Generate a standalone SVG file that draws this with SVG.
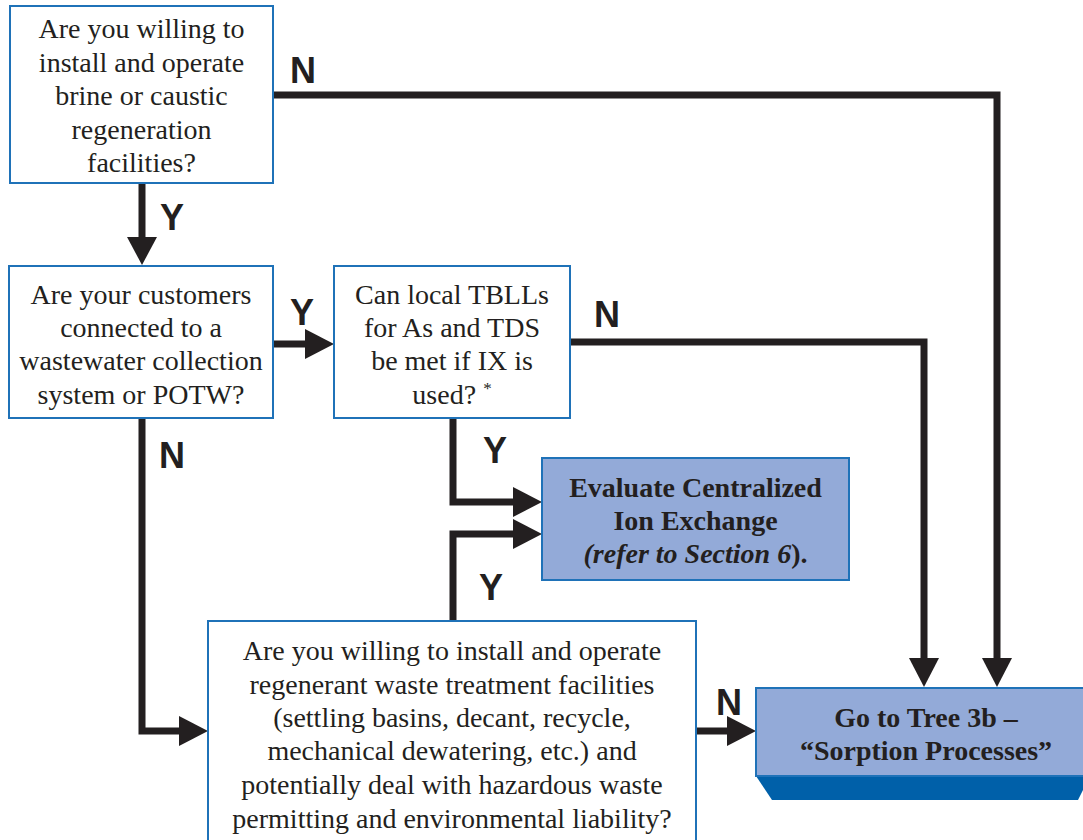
<svg xmlns="http://www.w3.org/2000/svg" width="1083" height="840" viewBox="0 0 1083 840">
<defs>
<style>
.box{fill:#fff;stroke:#1f72b8;stroke-width:2}
.fbox{fill:#93aad8;stroke:#1f72b8;stroke-width:2}
.t{font-family:"Liberation Serif","Times New Roman",serif;font-size:28px;fill:#231f20;text-anchor:middle}
.b{font-weight:bold}
.lbl{font-family:"Liberation Sans",Arial,sans-serif;font-size:36px;font-weight:bold;fill:#231f20;text-anchor:middle}
.c{fill:none;stroke:#231f20;stroke-width:7;stroke-linejoin:miter}
.ah{fill:#231f20}
</style>
</defs>
<g id="connectors">
<path class="c" d="M142,183 V238"/>
<polygon class="ah" points="127,237 157,237 142,265"/>
<path class="c" d="M273,95 H997 V660"/>
<polygon class="ah" points="982,658 1012,658 997,687"/>
<path class="c" d="M273,344 H306"/>
<polygon class="ah" points="305,329 305,359 334,344"/>
<path class="c" d="M570,342 H924 V660"/>
<polygon class="ah" points="909,658 939,658 924,687"/>
<path class="c" d="M453,418 V502 H515"/>
<polygon class="ah" points="513,487 513,517 542,502"/>
<path class="c" d="M453,621 V534 H515"/>
<polygon class="ah" points="513,519 513,549 542,534"/>
<path class="c" d="M142,418 V731 H181"/>
<polygon class="ah" points="179,716 179,746 208,731"/>
<path class="c" d="M696,731 H729"/>
<polygon class="ah" points="727,716 727,746 756,731"/>
<text class="lbl" x="303" y="83">N</text>
<text class="lbl" x="172" y="230">Y</text>
<text class="lbl" x="302" y="325">Y</text>
<text class="lbl" x="607" y="327">N</text>
<text class="lbl" x="172" y="468">N</text>
<text class="lbl" x="495" y="463">Y</text>
<text class="lbl" x="491" y="600">Y</text>
<text class="lbl" x="729" y="715">N</text>
</g>
<g id="q1">
<rect class="box" x="10" y="6" width="263" height="177"/>
<text class="t"><tspan x="141.5" y="38">Are you willing to</tspan><tspan x="141.5" y="72">install and operate</tspan><tspan x="141.5" y="105">brine or caustic</tspan><tspan x="141.5" y="139">regeneration</tspan><tspan x="141.5" y="172">facilities?</tspan></text>
</g>
<g id="q2">
<rect class="box" x="9" y="266" width="264" height="152"/>
<text class="t"><tspan x="141" y="304">Are your customers</tspan><tspan x="141" y="337">connected to a</tspan><tspan x="141" y="370">wastewater collection</tspan><tspan x="141" y="404">system or POTW?</tspan></text>
</g>
<g id="q3">
<rect class="box" x="334" y="266" width="236" height="152"/>
<text class="t"><tspan x="452" y="304">Can local TBLLs</tspan><tspan x="452" y="337">for As and TDS</tspan><tspan x="452" y="370">be met if IX is</tspan><tspan x="452" y="404">used? <tspan font-size="17" dy="-10">*</tspan></tspan></text>
</g>
<g id="evaluate">
<rect class="fbox" x="542" y="458" width="307" height="122"/>
<text class="t b"><tspan x="695.5" y="497">Evaluate Centralized</tspan><tspan x="695.5" y="530">Ion Exchange</tspan><tspan x="695.5" y="563"><tspan font-style="italic">(refer to Section 6</tspan>).</tspan></text>
</g>
<g id="q4">
<rect class="box" x="208" y="621" width="488" height="225"/>
<text class="t"><tspan x="452" y="660">Are you willing to install and operate</tspan><tspan x="452" y="694">regenerant waste treatment facilities</tspan><tspan x="452" y="727">(settling basins, decant, recycle,</tspan><tspan x="452" y="760">mechanical dewatering, etc.) and</tspan><tspan x="452" y="794">potentially deal with hazardous waste</tspan><tspan x="452" y="828">permitting and environmental liability?</tspan></text>
</g>
<g id="tree3b">
<polygon points="756,776 1090,776 1078,800 772,800" fill="#0060a9"/>
<rect class="fbox" x="756" y="688" width="340" height="88"/>
<text class="t b"><tspan x="926" y="727">Go to Tree 3b –</tspan><tspan x="926" y="760">“Sorption Processes”</tspan></text>
</g>
</svg>
